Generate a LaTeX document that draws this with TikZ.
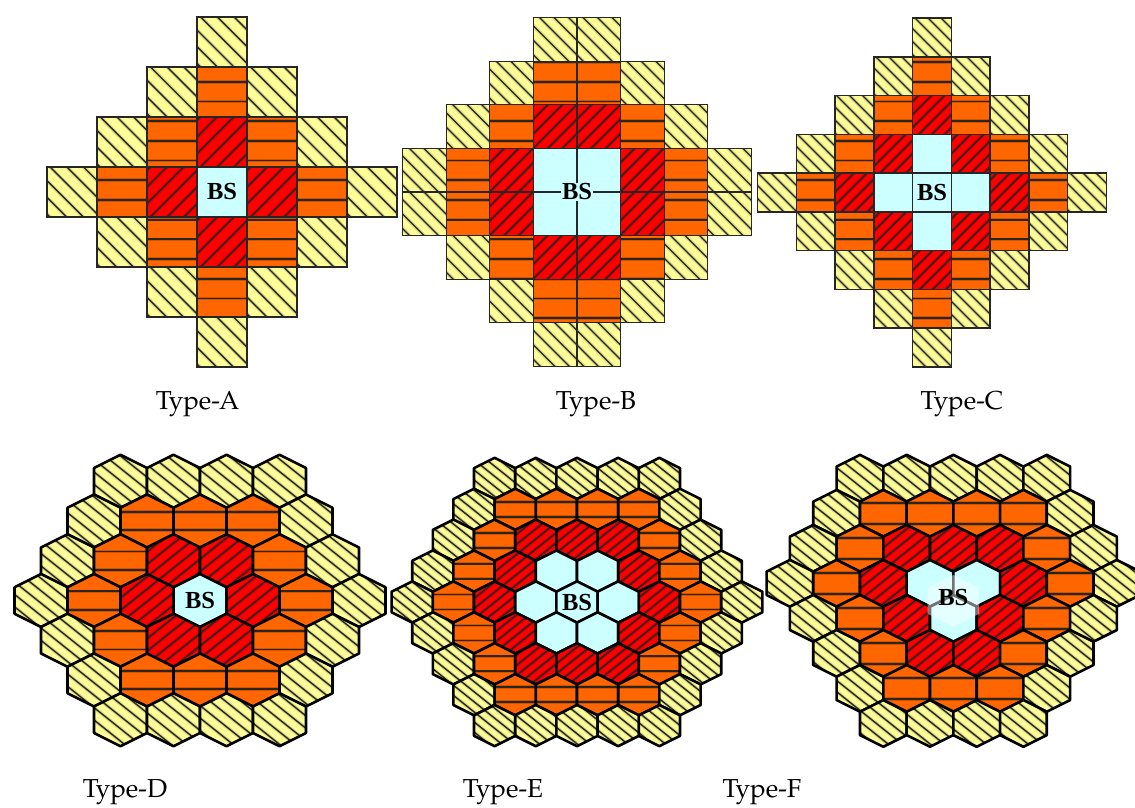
\documentclass[tikz,border=0pt]{standalone}
\usepackage{fontspec}
\setmainfont{texgyrepagella}[Extension=.otf, UprightFont=*-regular, BoldFont=*-bold]
\newfontfamily\bsfont{Liberation Serif}

% #1 kind (0 BS, 1 red, 2 orange, 3 yellow), #2 x, #3 y, #4 size, #5 hatch slope
\newcommand\paintcell[5]{%
  \ifcase#1
    \fill[bsc] (#2-#4,#3-#4) rectangle (#2+#4,#3+#4);
  \or
    \fill[redc] (#2-#4,#3-#4) rectangle (#2+#4,#3+#4);
    \pgfmathtruncatemacro\nz{floor((#2+#3/#5)/\hgap)}%
    \foreach \kk in {-6,...,6}{%
      \pgfmathsetmacro\xm{(\nz+\kk)*\hgap-#3/#5}%
      \draw[hatch] (\xm-#4,#3+#4*#5) -- (\xm+#4,#3-#4*#5);
    }%
  \or
    \fill[orgc] (#2-#4,#3-#4) rectangle (#2+#4,#3+#4);
    \pgfmathtruncatemacro\nz{floor((#3-\yzero)/\vgap)}%
    \foreach \kk in {-3,...,3}{%
      \pgfmathsetmacro\ym{\yzero+(\nz+\kk)*\vgap}%
      \draw[stripe] (#2-#4,\ym) -- (#2+#4,\ym);
    }%
  \or
    \fill[ylwc] (#2-#4,#3-#4) rectangle (#2+#4,#3+#4);
    \pgfmathtruncatemacro\nz{floor((#2-#3/#5)/\hgap)}%
    \foreach \kk in {-6,...,6}{%
      \pgfmathsetmacro\xm{(\nz+\kk)*\hgap+#3/#5}%
      \draw[hatch] (\xm-#4,#3-#4*#5) -- (\xm+#4,#3+#4*#5);
    }%
  \fi}

\newcommand\sqcell[4]{%
  \begin{scope}
    \clip (#2-#4/2,#3-#4/2) rectangle (#2+#4/2,#3+#4/2);
    \paintcell{#1}{#2}{#3}{#4}{1}
  \end{scope}
  \draw[sqedge] (#2-#4/2,#3-#4/2) rectangle (#2+#4/2,#3+#4/2);}

\newcommand\hexcell[4]{%
  \begin{scope}
    \pgfmathsetmacro\yzero{#3+\vgap/2}%
    \clip (#2,#3-#4/2) -- (#2+#4/2,#3-#4/4) -- (#2+#4/2,#3+#4/4) -- (#2,#3+#4/2)
      -- (#2-#4/2,#3+#4/4) -- (#2-#4/2,#3-#4/4) -- cycle;
    \paintcell{#1}{#2}{#3}{#4}{0.8}
  \end{scope}
  \draw[hexedge] (#2,#3-#4/2) -- (#2+#4/2,#3-#4/4) -- (#2+#4/2,#3+#4/4) -- (#2,#3+#4/2)
      -- (#2-#4/2,#3+#4/4) -- (#2-#4/2,#3-#4/4) -- cycle;}

\begin{document}
\begin{tikzpicture}[x=1pt,y=-1pt]
\definecolor{bsc}{HTML}{CCFFFF}
\definecolor{redc}{HTML}{FF0000}
\definecolor{orgc}{HTML}{FF6600}
\definecolor{ylwc}{HTML}{FFFF99}

\tikzset{
hatch/.style={draw=black!85, line width=1.4pt, preaction={draw=black, line width=3.6pt, draw opacity=0.15}},
stripe/.style={draw=black!85, line width=1.8pt, preaction={draw=black, line width=3.6pt, draw opacity=0.18}},
sqedge/.style={draw=black!85, line width=1.3pt},
hexedge/.style={draw=black, line width=2.6pt, line join=round},
bslabel/.style={font=\bsfont\bfseries\fontsize{24.5}{24.5}\selectfont, inner sep=1pt},
typelabel/.style={font=\fontsize{26}{26}\selectfont, anchor=base, inner sep=0pt}
}

\useasboundingbox[fill=white] (0,0) rectangle (1135,807);

% Type-A
\def\hgap{16.7}\def\vgap{19.7}\def\yzero{81.7}
\foreach \ci in {-3,...,3}{
  \foreach \cj in {-3,...,3}{
    \pgfmathtruncatemacro\ring{abs(\ci)+abs(\cj)}
    \ifnum\ring<4
      \pgfmathsetmacro\cx{222+50*(\ci)}
      \pgfmathsetmacro\cy{192+50*(\cj)}
      \sqcell{\ring}{\cx}{\cy}{50}
    \fi
  }
}
\node[bslabel] (bsA) at (222,192) {BS};

% Type-B
\def\hgap{14.5}
\foreach \ci in {-4,...,3}{
  \foreach \cj in {-4,...,3}{
    \pgfmathtruncatemacro\ring{abs(\ci+0.5)+abs(\cj+0.5)-1}
    \ifnum\ring<4
      \pgfmathsetmacro\cx{577+43.6*(\ci+0.5)}
      \pgfmathsetmacro\cy{192+43.6*(\cj+0.5)}
      \sqcell{\ring}{\cx}{\cy}{43.6}
    \fi
  }
}
\node[bslabel, fill=bsc] (bsB) at (577,192) {BS};

% Type-C
\def\hgap{13}
\foreach \ci in {-4,...,4}{
  \foreach \cj in {-4,...,4}{
    \pgfmathtruncatemacro\ring{abs(\ci)+abs(\cj)}
    \ifnum\ring<5
      \pgfmathtruncatemacro\kind{max(\ring-1,0)}
      \pgfmathsetmacro\cx{932+38.75*(\ci)}
      \pgfmathsetmacro\cy{192.5+38.75*(\cj)}
      \sqcell{\kind}{\cx}{\cy}{38.75}
    \fi
  }
}
\node[bslabel] (bsC) at (932,192.5) {BS};

% Type-D
\def\hgap{15.5}\def\vgap{18.4}
\foreach \row in {-3,...,3}{
  \foreach \col in {-3,...,3}{
    \pgfmathtruncatemacro\ring{(abs(\col)+abs(\row)+abs(\col+\row))/2}
    \ifnum\ring<4
      \pgfmathsetmacro\cx{200+53*(\col+0.5*\row)}
      \pgfmathsetmacro\cy{600.5+39.75*(\row)}
      \hexcell{\ring}{\cx}{\cy}{53}
    \fi
  }
}
\node[bslabel] (bsD) at (200,600.5) {BS};

% Type-E
\def\hgap{12.6}\def\vgap{15}
\foreach \row in {-4,...,4}{
  \foreach \col in {-4,...,4}{
    \pgfmathtruncatemacro\ring{(abs(\col)+abs(\row)+abs(\col+\row))/2}
    \ifnum\ring<5
      \pgfmathtruncatemacro\kind{max(\ring-1,0)}
      \pgfmathsetmacro\cx{577+41.2*(\col+0.5*\row)}
      \pgfmathsetmacro\cy{602+30.9*(\row)}
      \hexcell{\kind}{\cx}{\cy}{41.2}
    \fi
  }
}
\node[bslabel] (bsE) at (577,602) {BS};

% Type-F
\def\hgap{14}\def\vgap{21}
\foreach \row in {-3,...,4}{
  \foreach \col in {-6,...,5}{
    \pgfmathtruncatemacro\ring{min(abs(\col)+abs(\row)+abs(\col+\row), abs(\col-1)+abs(\row)+abs(\col+\row-1), abs(\col)+abs(\row-1)+abs(\col+\row-1))/2}
    \ifnum\ring<4
      \pgfmathsetmacro\cx{930+46.7*(\col+0.5*\row)}
      \pgfmathsetmacro\cy{583.3+35.03*(\row)}
      \hexcell{\ring}{\cx}{\cy}{46.7}
    \fi
  }
}
\path[fill=white, fill opacity=0.45] (953.3,575) -- (979.1,588) -- (979.1,613.8) -- (953.3,626.7) -- (927.5,613.8) -- (927.5,588) -- cycle;
\node[bslabel] (bsF) at (953.3,597) {BS};

\node[typelabel] (typeA) at (197.5,409) {Type-A};
\node[typelabel] (typeB) at (596,409) {Type-B};
\node[typelabel] (typeC) at (962,409) {Type-C};
\node[typelabel] (typeD) at (125,797) {Type-D};
\node[typelabel] (typeE) at (503,797) {Type-E};
\node[typelabel] (typeF) at (762,797) {Type-F};
\end{tikzpicture}
\end{document}
